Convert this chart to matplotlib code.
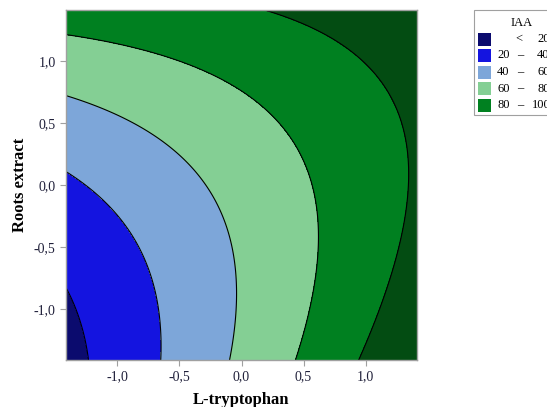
import numpy as np
import matplotlib
matplotlib.use("Agg")
import matplotlib.pyplot as plt
from matplotlib.patches import Rectangle
from matplotlib.ticker import FuncFormatter

# Fitted second-order model for IAA (coded units):
# IAA = b0 + b1*x + b2*y + b11*x^2 + b22*y^2 + b12*x*y
b0, b1, b2 = 66.48, 22.92, 12.30
b11, b22, b12 = 1.49, 7.24, -10.08

# coded range of the design (rotatable, alpha = 1.414)
alpha = 1.414
levels = [20, 40, 60, 80, 100]
band_colors = ["#0b0b6e", "#1414e0", "#7da6d9", "#84cf94", "#008020", "#034c12"]
xticks = [-1.0, -0.5, 0.0, 0.5, 1.0]
yticks = [-1.0, -0.5, 0.0, 0.5, 1.0]

plt.rcParams['font.family'] = ['Liberation Serif', 'DejaVu Serif']

g = np.linspace(-alpha, alpha, 300)
X, Y = np.meshgrid(g, g)
Z = b0 + b1 * X + b2 * Y + b11 * X ** 2 + b22 * Y ** 2 + b12 * X * Y

fig = plt.figure(figsize=(5.47, 4.07), dpi=100)
ax = fig.add_axes([0.1207, 0.1155, 0.6416, 0.86])

bounds = [-1e9] + levels + [1e9]
ax.contourf(X, Y, Z, levels=bounds, colors=band_colors)
ax.contour(X, Y, Z, levels=levels, colors="black", linewidths=0.8)

ax.set_xlim(-alpha, alpha)
ax.set_ylim(-alpha, alpha)
ax.set_xticks(xticks)
ax.set_yticks(yticks)
comma = FuncFormatter(lambda v, p: f"{v:.1f}".replace(".", ",").replace("-0,0", "0,0"))
ax.xaxis.set_major_formatter(comma)
ax.yaxis.set_major_formatter(comma)
ax.tick_params(colors="#a0a0a0", labelcolor="#20203a", labelsize=10, length=4, width=0.8)
for s in ax.spines.values():
    s.set_color("#a0a0a0")
    s.set_linewidth(1.0)

ax.set_xlabel("L-tryptophan", fontsize=12, fontweight="bold", labelpad=6)
ax.set_ylabel("Roots extract", fontsize=12, fontweight="bold", labelpad=4)

# legend box, drawn in figure pixels so that it runs off the right edge
W, H = 547, 407
def fx(px):
    return px / W
def fy(py):
    return 1 - py / H

fig.patches.append(Rectangle((fx(474), fy(115)), fx(100), 105 / H, transform=fig.transFigure,
                             facecolor="white", edgecolor="#a0a0a0", lw=0.8))
fig.text(fx(522), fy(23), "IAA", ha="center", va="center", fontsize=9)
for i, col in enumerate(band_colors[:5]):
    yc = 39 + i * 16.5
    fig.patches.append(Rectangle((fx(478), fy(yc + 6.5)), fx(13), 13 / H, transform=fig.transFigure,
                                 facecolor=col, edgecolor="none"))
    if i == 0:
        fig.text(fx(519), fy(yc), "<", ha="center", va="center", fontsize=9)
    else:
        fig.text(fx(497), fy(yc), str(levels[i - 1]), ha="left", va="center", fontsize=9)
        fig.text(fx(520), fy(yc), "\u2013", ha="center", va="center", fontsize=9)
    hx = 532 if levels[i] >= 100 else 537
    fig.text(fx(hx), fy(yc), str(levels[i]), ha="left", va="center", fontsize=9)

fig.savefig("out.png", dpi=100)
